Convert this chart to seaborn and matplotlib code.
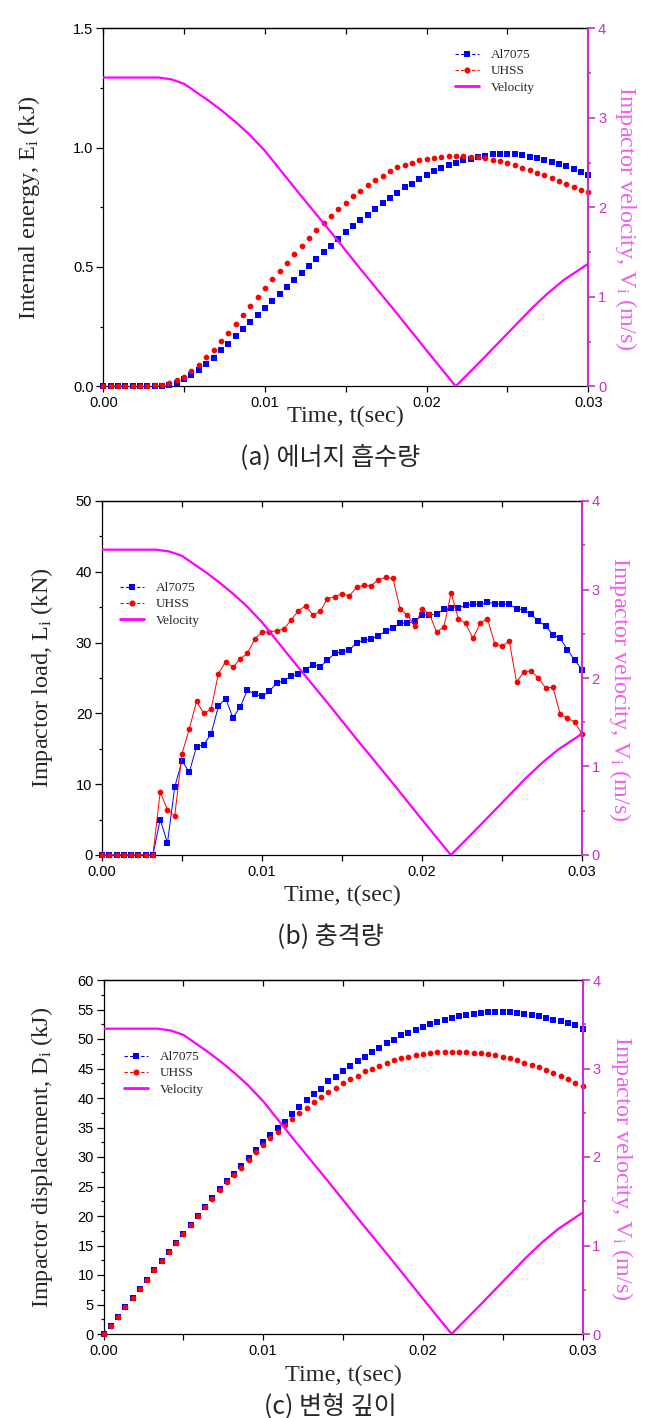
import numpy as np
import matplotlib
matplotlib.use("Agg")
import matplotlib.pyplot as plt
import seaborn as sns
from matplotlib.lines import Line2D
from matplotlib.ticker import MultipleLocator, FormatStrFormatter

W, H = 658, 1418

# 67 sampled outputs between 0 and 0.03 s (one marker per output)
time_s = np.linspace(0.0, 0.03, 67)

# (a) internal energy, kJ
energy_al = [0, 0, 0, 0, 0, 0, 0, 0, 0, 0.004,
             0.013, 0.030, 0.049, 0.070, 0.094, 0.120, 0.150, 0.179, 0.210, 0.239,
             0.268, 0.299, 0.328, 0.359, 0.388, 0.417, 0.447, 0.476, 0.505, 0.533,
             0.561, 0.589, 0.617, 0.646, 0.670, 0.696, 0.719, 0.743, 0.767, 0.791,
             0.812, 0.833, 0.849, 0.867, 0.884, 0.900, 0.913, 0.926, 0.937, 0.948,
             0.954, 0.960, 0.966, 0.972, 0.974, 0.974, 0.972, 0.968, 0.962, 0.955,
             0.950, 0.941, 0.931, 0.922, 0.909, 0.897, 0.886]
energy_uhss = [0, 0, 0, 0, 0, 0, 0, 0.005, 0.006, 0.012,
               0.027, 0.041, 0.065, 0.090, 0.122, 0.154, 0.189, 0.225, 0.261, 0.298,
               0.337, 0.374, 0.412, 0.448, 0.484, 0.518, 0.554, 0.587, 0.622, 0.653,
               0.685, 0.713, 0.743, 0.770, 0.796, 0.820, 0.844, 0.865, 0.883, 0.902,
               0.918, 0.927, 0.937, 0.947, 0.951, 0.957, 0.961, 0.963, 0.964, 0.963,
               0.962, 0.961, 0.955, 0.950, 0.943, 0.936, 0.926, 0.915, 0.905, 0.895,
               0.884, 0.872, 0.860, 0.849, 0.837, 0.824, 0.814]

# (b) impactor load, kN
load_al = [0, 0, 0, 0, 0, 0, 0, 0, 5.0, 1.7,
           9.6, 13.3, 11.7, 15.3, 15.6, 17.1, 21.0, 22.1, 19.4, 20.9,
           23.3, 22.7, 22.4, 23.1, 24.3, 24.6, 25.3, 25.5, 26.2, 26.9,
           26.6, 27.5, 28.5, 28.7, 28.9, 30.0, 30.3, 30.5, 31.0, 31.6,
           32.0, 32.8, 32.7, 33.0, 33.9, 33.9, 34.0, 34.7, 34.9, 34.9,
           35.3, 35.4, 35.4, 35.7, 35.5, 35.4, 35.4, 34.8, 34.6, 34.0,
           33.0, 32.4, 31.1, 30.6, 29.0, 27.5, 26.2]
load_uhss = [0, 0, 0, 0, 0, 0, 0, 0, 8.9, 6.4,
             5.5, 14.3, 17.8, 21.7, 20.0, 20.6, 25.6, 27.3, 26.5, 27.7,
             28.5, 30.5, 31.5, 31.5, 31.7, 31.9, 33.2, 34.5, 35.2, 33.9,
             34.4, 36.2, 36.5, 36.9, 36.6, 37.8, 38.1, 38.0, 38.9, 39.2,
             39.1, 34.7, 33.9, 32.3, 34.7, 34.1, 31.5, 32.2, 37.0, 33.4,
             32.7, 30.6, 32.7, 33.4, 29.8, 29.5, 30.2, 24.4, 25.9, 26.0,
             25.0, 23.6, 23.7, 19.9, 19.3, 18.8, 17.1]

# (c) impactor displacement
disp_al = [0, 1.4, 2.9, 4.5, 6.1, 7.6, 9.2, 10.8, 12.3, 13.9,
           15.4, 17.0, 18.5, 20.0, 21.5, 23.0, 24.5, 25.9, 27.2, 28.4,
           29.9, 31.2, 32.6, 33.7, 34.9, 36.0, 37.25, 38.4, 39.6, 40.7,
           41.5, 42.8, 43.6, 44.6, 45.4, 46.2, 47.0, 47.8, 48.5, 49.3,
           49.9, 50.6, 51.1, 51.6, 52.1, 52.6, 52.9, 53.2, 53.6, 53.85,
           54.1, 54.3, 54.4, 54.5, 54.55, 54.55, 54.55, 54.4, 54.3, 54.1,
           53.9, 53.6, 53.3, 53.0, 52.7, 52.3, 51.75]
disp_uhss = [0, 1.4, 2.9, 4.5, 6.1, 7.6, 9.2, 10.8, 12.3, 13.9,
             15.4, 17.0, 18.5, 20.0, 21.5, 22.9, 24.4, 25.8, 26.9, 28.2,
             29.5, 30.8, 32.0, 33.2, 34.3, 35.5, 36.5, 37.45, 38.35, 39.3,
             40.2, 41.1, 41.7, 42.6, 43.2, 43.8, 44.5, 45.0, 45.5, 46.0,
             46.4, 46.7, 46.9, 47.3, 47.5, 47.6, 47.8, 47.8, 47.8, 47.8,
             47.8, 47.7, 47.6, 47.4, 47.3, 47.0, 46.7, 46.4, 46.0, 45.6,
             45.2, 44.7, 44.3, 43.8, 43.2, 42.6, 42.0]

# impactor velocity, m/s (same curve on every panel)
vel_time = [0.0, 0.0034, 0.0042, 0.0050, 0.0058, 0.0066, 0.0074, 0.0082, 0.0090, 0.0100,
            0.0120, 0.0140, 0.0160, 0.0180, 0.0200, 0.0218, 0.0235, 0.0250, 0.0265, 0.0275,
            0.0285, 0.0300]
velocity = [3.45, 3.45, 3.43, 3.38, 3.28, 3.18, 3.07, 2.95, 2.82, 2.63,
            2.18, 1.74, 1.29, 0.85, 0.40, 0.0, 0.31, 0.59, 0.87, 1.04,
            1.19, 1.37]

series_names = ["Al7075", "UHSS", "Velocity"]

BLUE = "#0000ff"
RED = "#ff0000"
MAGENTA = "#ff00ff"
AXIS_MAG = "#c830c8"
LABEL_MAG = "#f060f0"

SERIF = ["Liberation Serif", "DejaVu Serif"]
SANS = ["Liberation Sans", "DejaVu Sans"]
KOREAN = ["Noto Sans CJK KR", "DejaVu Sans"]

sns.set_theme(style="ticks", rc={"axes.edgecolor": "black", "xtick.color": "black",
                                 "ytick.color": "black", "axes.linewidth": 0.9})
plt.rcParams["font.family"] = SANS
plt.rcParams["mathtext.fontset"] = "custom"
plt.rcParams["mathtext.rm"] = "Liberation Serif"
plt.rcParams["mathtext.it"] = "Liberation Serif:italic"


def px_rect(left, top, right, bottom):
    return [left / W, 1 - bottom / H, (right - left) / W, (bottom - top) / H]


def fig_xy(x, y):
    return x / W, 1 - y / H


def draw_panel(fig, box, y_al, y_uhss, ymax, ystep, yfmt, ylabel, with_lines,
               caption, caption_y, legend_xy, ylabel_x, vlabel_xy, time_y):
    left, top, right, bottom = box
    ax = fig.add_axes(px_rect(*box))
    lw = 0.7 if with_lines else 0

    sns.lineplot(x=time_s, y=y_al, ax=ax, color=BLUE, linewidth=lw, marker="s",
                 markersize=3.7, markeredgewidth=0, clip_on=False, zorder=3)
    sns.lineplot(x=time_s, y=y_uhss, ax=ax, color=RED, linewidth=lw, marker="o",
                 markersize=4.1, markeredgewidth=0, clip_on=False, zorder=4)

    ax.set_xlim(0, 0.03)
    ax.set_ylim(0, ymax)
    ax.xaxis.set_major_locator(MultipleLocator(0.01))
    ax.xaxis.set_minor_locator(MultipleLocator(0.005))
    ax.xaxis.set_major_formatter(FormatStrFormatter("%.2f"))
    ax.yaxis.set_major_locator(MultipleLocator(ystep))
    ax.yaxis.set_minor_locator(MultipleLocator(ystep / 2))
    ax.yaxis.set_major_formatter(FormatStrFormatter(yfmt))
    ax.tick_params(axis="x", which="both", direction="out", length=4, width=0.9,
                   labelsize=10.5, pad=3)
    ax.tick_params(axis="y", which="major", direction="out", length=5, width=0.9,
                   labelsize=10.5, pad=2)
    ax.tick_params(axis="y", which="minor", direction="out", length=2.5, width=0.9)
    ax.spines["right"].set_visible(False)

    top_ax = ax.secondary_xaxis("top")
    top_ax.xaxis.set_major_locator(MultipleLocator(0.005))
    top_ax.tick_params(axis="x", direction="in", length=4, width=0.9, labeltop=False)

    twin = ax.twinx()
    sns.lineplot(x=vel_time, y=velocity, ax=twin, color=MAGENTA, linewidth=1.6)
    twin.set_ylim(0, 4)
    twin.yaxis.set_major_locator(MultipleLocator(1))
    twin.yaxis.set_minor_locator(MultipleLocator(0.5))
    twin.yaxis.set_major_formatter(FormatStrFormatter("%d"))
    twin.tick_params(axis="y", which="major", direction="out", length=5, width=1.2,
                     color=AXIS_MAG, labelcolor=AXIS_MAG, labelsize=10.5, pad=2)
    twin.tick_params(axis="y", which="minor", direction="out", length=2.5, width=1.2,
                     color=AXIS_MAG)
    for side in ["left", "top", "bottom"]:
        twin.spines[side].set_visible(False)
    twin.spines["right"].set_color(AXIS_MAG)
    twin.spines["right"].set_linewidth(1.5)

    # axis titles
    ax.set_xlabel("Time, t(sec)", fontfamily=SERIF, fontsize=17.5)
    ax.xaxis.set_label_coords(0.5, (bottom - time_y) / (bottom - top))
    ax.xaxis.label.set_va("center")
    ax.set_ylabel(ylabel, fontfamily=SERIF, fontsize=17.5)
    ax.yaxis.set_label_coords((ylabel_x - left) / (right - left), 0.5)
    ax.yaxis.label.set_va("center")
    twin.set_ylabel(r"Impactor velocity, $\mathregular{V_i}$ (m/s)", fontfamily=SERIF,
                    fontsize=17.5, color=LABEL_MAG, rotation=270)
    twin.yaxis.set_label_coords((vlabel_xy[0] - left) / (right - left),
                                (bottom - vlabel_xy[1]) / (bottom - top))
    twin.yaxis.label.set_va("center")

    handles = [
        Line2D([], [], color=BLUE, ls=(0, (3, 2)), lw=0.8, marker="s", ms=4, mew=0),
        Line2D([], [], color=RED, ls=(0, (3, 2)), lw=0.8, marker="o", ms=4.4, mew=0),
        Line2D([], [], color=MAGENTA, lw=2),
    ]
    twin.legend(handles, series_names, loc="upper left",
                bbox_to_anchor=fig_xy(*legend_xy), bbox_transform=fig.transFigure,
                frameon=False, prop={"family": SERIF, "size": 9.5},
                handlelength=1.8, handletextpad=0.9, labelspacing=0.3,
                borderpad=0, borderaxespad=0)

    fig.text(330 / W, 1 - caption_y / H, caption, family=KOREAN, fontsize=18,
             ha="center", va="center")


fig = plt.figure(figsize=(W / 100, H / 100), dpi=100)

draw_panel(fig, (103.3, 28.3, 588.3, 386.3), energy_al, energy_uhss, 1.5, 0.5, "%.1f",
           r"Internal energy, $\mathregular{E_i}$ (kJ)", False,
           "(a) 에너지 흡수량", 457, (455, 49), 29, (626, 218), 416)
draw_panel(fig, (102, 501, 582, 855), load_al, load_uhss, 50, 10, "%d",
           r"Impactor load, $\mathregular{L_i}$ (kN)", True,
           "(b) 충격량", 937, (120, 582), 42, (620, 689), 895)
draw_panel(fig, (103.5, 980, 582.5, 1334), disp_al, disp_uhss, 60, 5, "%d",
           r"Impactor displacement, $\mathregular{D_i}$ (kJ)", False,
           "(c) 변형 깊이", 1407, (124, 1051), 42, (622, 1168), 1375)

fig.savefig("out.png", dpi=100)
